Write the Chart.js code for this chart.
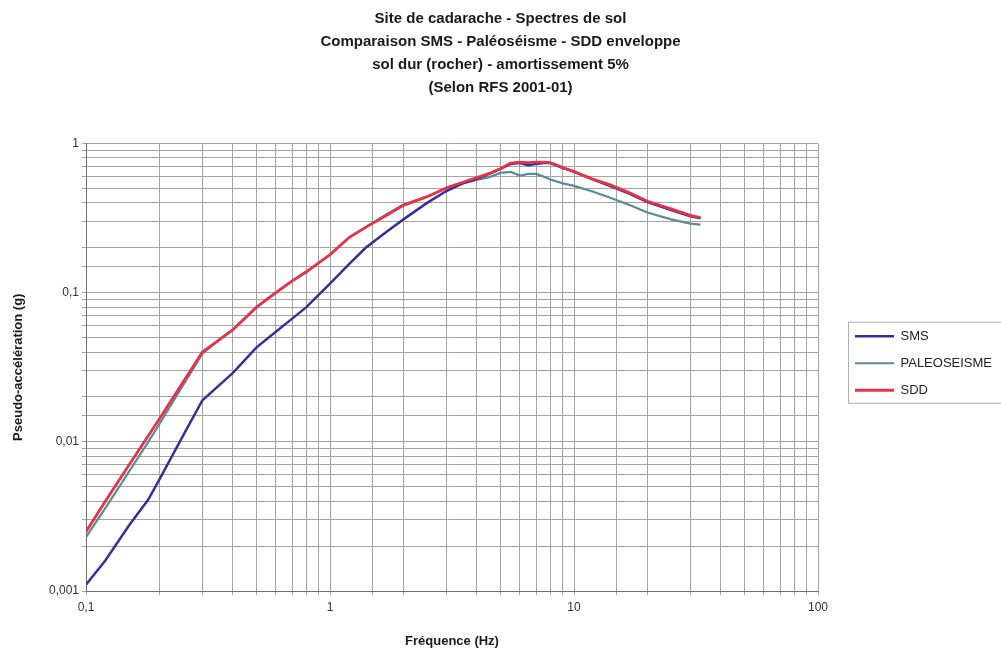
<!DOCTYPE html>
<html>
<head>
<meta charset="utf-8">
<script src="https://cdn.jsdelivr.net/npm/chart.js@4.4.0/dist/chart.umd.min.js"></script>
<style>
  html, body { margin: 0; padding: 0; background: #fff; }
  #wrap { width: 1001px; height: 650px; }
</style>
</head>
<body>
<div id="wrap"><canvas id="spectres"></canvas></div>
<script>
// frequences (Hz)
var freq = [0.1, 0.12, 0.15, 0.18, 0.2, 0.25, 0.3, 0.35, 0.4, 0.5, 0.6, 0.7, 0.8, 1.0, 1.2, 1.4, 1.7, 2.0, 2.5, 3.0, 3.5,
            4.0, 4.5, 5.0, 5.5, 6.0, 6.5, 7.0, 7.5, 8.0, 9.0, 10, 12, 14, 17, 20, 25, 30, 33];

// pseudo-acceleration (g)
var sms = [0.0011, 0.0016, 0.00275, 0.0041, 0.0056, 0.011, 0.019, 0.0238, 0.029, 0.043, 0.0547, 0.067, 0.08, 0.115,
           0.156, 0.2, 0.255, 0.31, 0.40, 0.48, 0.54, 0.58, 0.625, 0.675, 0.73, 0.74, 0.715, 0.73, 0.74, 0.74,
           0.685, 0.65, 0.572, 0.52, 0.458, 0.405, 0.358, 0.325, 0.315];
var paleo = [0.0023, 0.0036, 0.0063, 0.0100, 0.0132, 0.024, 0.039, 0.048, 0.0565, 0.08, 0.1, 0.12, 0.138, 0.18,
             0.235, 0.275, 0.335, 0.39, 0.44, 0.5, 0.54, 0.57, 0.595, 0.635, 0.645, 0.61, 0.625, 0.625, 0.6, 0.573,
             0.54, 0.52, 0.475, 0.435, 0.385, 0.345, 0.31, 0.29, 0.286];
var sdd = [0.0025, 0.0040, 0.0070, 0.0110, 0.0143, 0.0252, 0.040, 0.048, 0.0565, 0.080, 0.100, 0.12, 0.138, 0.18,
           0.235, 0.274, 0.329, 0.385, 0.44, 0.505, 0.55, 0.59, 0.63, 0.68, 0.74, 0.75, 0.745, 0.75, 0.75, 0.745,
           0.69, 0.645, 0.575, 0.53, 0.465, 0.41, 0.365, 0.33, 0.318];

var titleLines = ['Site de cadarache - Spectres de sol',
                  'Comparaison SMS - Paléoséisme - SDD enveloppe',
                  'sol dur (rocher) - amortissement 5%',
                  '(Selon RFS 2001-01)'];

function points(values) {
  return freq.map(function (f, i) { return { x: f, y: values[i] }; });
}

function decadeLabel(v) {
  var l = Math.log10(v);
  if (Math.abs(l - Math.round(l)) > 1e-9) return '';
  return String(v).replace('.', ',');
}

// cadre autour de la legende
var legendFrame = {
  id: 'legendFrame',
  beforeLayout: function (chart) {
    var lg = chart.legend;
    if (lg && !lg._fixed) {
      var fit = lg.fit;
      lg.fit = function () { fit.call(this); this.width = 183; };
      lg._fixed = true;
    }
  },
  afterLayout: function (chart) {
    var lg = chart.legend, area = chart.chartArea;
    lg.left += 23;
    lg.right += 23;
    lg.top = area.top - 4;
    lg.bottom = area.bottom - 4;
    lg.height = lg.bottom - lg.top;
  },
  afterDraw: function (chart) {
    var hb = chart.legend.legendHitBoxes;
    if (!hb || !hb.length) return;
    var ctx = chart.ctx;
    var last = hb[hb.length - 1];
    ctx.save();
    ctx.strokeStyle = '#b0b0b0';
    ctx.lineWidth = 1;
    ctx.strokeRect(hb[0].left - 6.5, hb[0].top - 7.5, 200, last.top + last.height - hb[0].top + 14);
    ctx.restore();
  }
};

var ctx = document.getElementById('spectres');
var chart = new Chart(ctx, {
  type: 'line',
  data: {
    datasets: [{
      label: 'SMS',
      data: points(sms),
      borderColor: '#3b2e97',
      backgroundColor: '#3b2e97',
      borderWidth: 2.5,
      order: 1
    }, {
      label: 'PALEOSEISME',
      data: points(paleo),
      borderColor: '#5b8c94',
      backgroundColor: '#5b8c94',
      borderWidth: 2.2,
      order: 2
    }, {
      label: 'SDD',
      data: points(sdd),
      borderColor: '#e2354b',
      backgroundColor: '#e2354b',
      borderWidth: 2.8,
      order: 0
    }]
  },
  plugins: [legendFrame],
  options: {
    responsive: true,
    maintainAspectRatio: false,
    animation: false,
    layout: { padding: 0 },
    elements: {
      point: { radius: 0 },
      line: { tension: 0, fill: false }
    },
    plugins: {
      title: {
        display: true,
        text: titleLines,
        color: '#1a1a1a',
        font: { family: 'Liberation Sans', size: 15, weight: 'bold', lineHeight: 23 / 15 },
        padding: { top: 7, bottom: 44.5 }
      },
      legend: {
        position: 'right',
        labels: {
          usePointStyle: true,
          pointStyle: 'line',
          pointStyleWidth: 39,
          padding: 14,
          color: '#222',
          font: { family: 'Liberation Sans', size: 13 },
          sort: function (a, b) { return a.datasetIndex - b.datasetIndex; }
        }
      },
      tooltip: { enabled: false }
    },
    scales: {
      x: {
        type: 'logarithmic',
        min: 0.1,
        max: 100,
        afterFit: function (s) { s.height = 59; },
        border: { color: '#707070', width: 1 },
        grid: { color: '#a4a4a4', tickLength: 4 },
        ticks: {
          autoSkip: false,
          maxRotation: 0,
          padding: 5,
          color: '#333',
          font: { family: 'Liberation Sans', size: 12 },
          callback: function (v) { return decadeLabel(v); }
        },
        title: {
          display: true,
          text: 'Fréquence (Hz)',
          color: '#1a1a1a',
          font: { family: 'Liberation Sans', size: 13, weight: 'bold' },
          padding: { top: 0, bottom: 1 }
        }
      },
      y: {
        type: 'logarithmic',
        min: 0.001,
        max: 1,
        afterFit: function (s) { s.width = 86; },
        border: { color: '#707070', width: 1 },
        grid: { color: '#a4a4a4', tickLength: 4 },
        ticks: {
          autoSkip: false,
          padding: 3,
          color: '#333',
          font: { family: 'Liberation Sans', size: 12 },
          callback: function (v) { return decadeLabel(v); }
        },
        title: {
          display: true,
          text: 'Pseudo-accélération (g)',
          color: '#1a1a1a',
          font: { family: 'Liberation Sans', size: 13, weight: 'bold' },
          padding: { top: 11, bottom: 0 }
        }
      }
    }
  }
});
</script>
</body>
</html>
